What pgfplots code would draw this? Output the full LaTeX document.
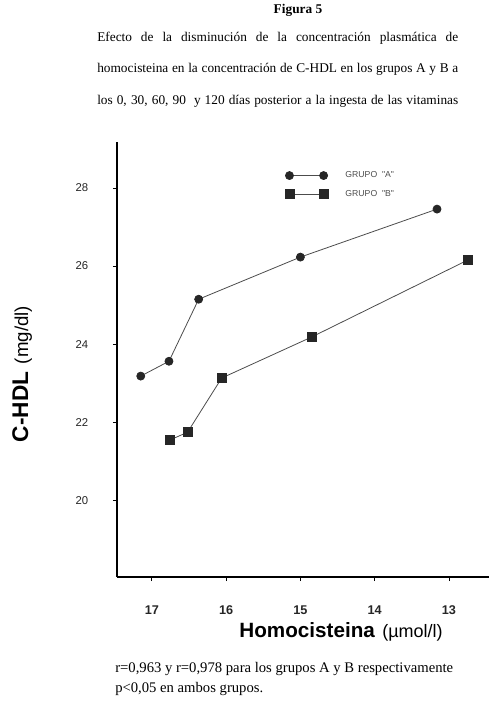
\documentclass[border=0pt]{standalone}
\usepackage{fontspec}
\setmainfont{Liberation Serif}
\newfontfamily\arial{Liberation Sans}
\usepackage{pgfplots}
\pgfplotsset{compat=1.18}
\definecolor{linegray}{gray}{0.3}
\definecolor{markgray}{gray}{0.15}

\begin{document}
\begin{tikzpicture}
\begin{scope}[x=0.75pt,y=-0.75pt]
\useasboundingbox (0,0) rectangle (490,704);
\node[anchor=base,inner sep=0,font=\bfseries\fontsize{10}{12}\selectfont] at (298,13) {Figura 5};
\node[anchor=base west,inner sep=0,font=\fontsize{10}{12}\selectfont] at (97,41)
  {\hbox to 270.75pt{Efecto de la disminución de la concentración plasmática de}};
\node[anchor=base west,inner sep=0,font=\fontsize{10}{12}\selectfont] at (97,72)
  {\hbox to 270.75pt{homocisteina en la concentración de C-HDL en los grupos A y B a}};
\node[anchor=base west,inner sep=0,font=\fontsize{10}{12}\selectfont] at (97,104)
  {\hbox to 270.75pt{los 0, 30, 60, 90\ \ y 120 días posterior a la ingesta de las vitaminas}};
% y label
\node[rotate=90,anchor=base,inner sep=0] at (28,374)
  {\arial{\fontsize{17}{20}\selectfont\bfseries C-HDL}\ \ {\fontsize{14}{17}\selectfont(mg/dl)}};
% x label
\node[anchor=base,inner sep=0] at (341,637)
  {\arial{\fontsize{15.5}{18}\selectfont\bfseries Homocisteina}\ \ {\fontsize{13.5}{16}\selectfont(µmol/l)}};
% footnote
\node[anchor=base west,inner sep=0,font=\fontsize{11}{13}\selectfont] at (115,672)
  {r=0,963 y r=0,978 para los grupos A y B respectivamente};
\node[anchor=base west,inner sep=0,font=\fontsize{11}{13}\selectfont] at (115,692)
  {p<0,05 en ambos grupos.};
\end{scope}

\begin{axis}[
    at={(87.75pt,-432.75pt)}, anchor=south west,
    scale only axis, width=279pt, height=326.25pt,
    x dir=reverse,
    xmin=12.46, xmax=17.47, ymin=18.03, ymax=29.18,
    axis lines=left,
    axis line style={line width=1.6pt, -},
    xtick={13,14,15,16,17}, ytick={20,22,24,26,28},
    tick align=outside, major tick length=3pt,
    tick style={black, line width=0.6pt},
    /pgf/number format/assume math mode=true,
    xticklabel style={font=\arial\bfseries\fontsize{9.5}{11}\selectfont, text=black!85, yshift=-15pt},
    yticklabel style={font=\arial\fontsize{8.5}{10}\selectfont, text=black!85, xshift=-15pt},
    legend style={at={(0.44,0.945)}, anchor=north west, draw=none, fill=none,
        font=\arial\fontsize{6.5}{7.5}\selectfont, text=black!70, row sep=4pt},
    legend cell align=left,
    legend image code/.code={\draw[#1] plot coordinates {(0cm,0cm) (0.9cm,0cm)};},
]
\addplot[color=linegray, line width=0.6pt, mark=*, mark size=3pt,
    mark options={fill=markgray, draw=markgray}] coordinates {
    (17.15,23.18) (16.77,23.56) (16.37,25.15) (15.00,26.23) (13.16,27.46)
};
\addlegendentry{\hspace*{11pt}GRUPO\ \ "A"}
\addplot[color=linegray, line width=0.6pt, mark=square*, mark size=3.4pt,
    mark options={fill=markgray, draw=markgray}] coordinates {
    (16.76,21.54) (16.52,21.74) (16.06,23.13) (14.85,24.18) (12.75,26.15)
};
\addlegendentry{\hspace*{11pt}GRUPO\ \ "B"}
\end{axis}
\end{tikzpicture}
\end{document}
